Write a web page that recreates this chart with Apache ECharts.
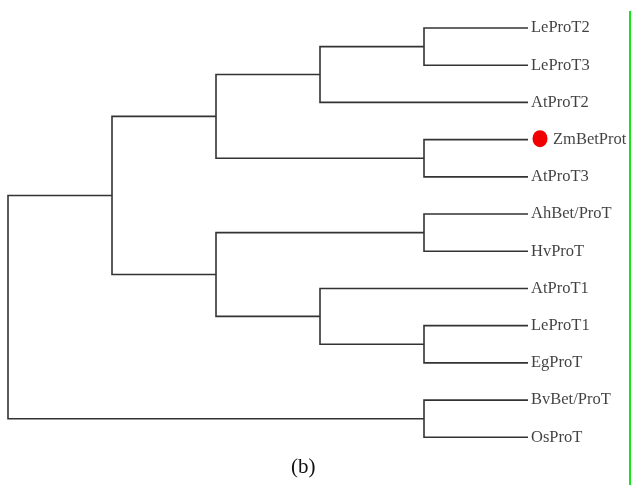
<!DOCTYPE html>
<html>
<head>
<meta charset="utf-8">
<script src="https://cdn.jsdelivr.net/npm/echarts@6/dist/echarts.min.js"></script>
<style>html,body{margin:0;padding:0;background:#fff}#c{width:631px;height:485px}</style>
</head>
<body>
<div id="c"></div>
<script>
// Leaf order, top to bottom
var leaves = ['LeProT2','LeProT3','AtProT2','ZmBetProt','AtProT3','AhBet/ProT','HvProT','AtProT1','LeProT1','EgProT','BvBet/ProT','OsProT'];
// Leaf level on the distance axis
var leafLevel = 5;
// Merges: [id, childA, childB, level]
var merges = [
  ['n1','LeProT2','LeProT3',4],
  ['n2','n1','AtProT2',3],
  ['n3','ZmBetProt','AtProT3',4],
  ['n4','n2','n3',2],
  ['n5','AhBet/ProT','HvProT',4],
  ['n6','LeProT1','EgProT',4],
  ['n7','AtProT1','n6',3],
  ['n8','n5','n7',2],
  ['n9','n4','n8',1],
  ['n10','BvBet/ProT','OsProT',4],
  ['root','n9','n10',0]
];
var highlighted = ['ZmBetProt'];
var caption = '(b)';

// node positions (level, row) derived from the tree structure
var pos = {};
leaves.forEach(function(n,i){ pos[n] = [leafLevel, i]; });
var edgeData = merges.map(function(m){
  var a = pos[m[1]], b = pos[m[2]];
  pos[m[0]] = [m[3], (a[1]+b[1])/2];
  return [a[0], a[1], b[0], b[1], m[3]];
});

var chart = echarts.init(document.getElementById('c'));
chart.setOption({
  animation:false,
  backgroundColor:'#fff',
  title:{text:caption, left:286, top:452, textStyle:{fontFamily:'Liberation Serif', fontWeight:'normal', fontSize:21, color:'#111'}},
  grid:{left:8, right:103, top:28, bottom:47.7},
  xAxis:{type:'value', min:0, max:leafLevel, show:false},
  yAxis:{type:'value', min:0, max:leaves.length-1, inverse:true, show:false},
  graphic:[{type:'line', shape:{x1:630, y1:11, x2:630, y2:485}, style:{stroke:'#14e614', lineWidth:2}}],
  series:[
    {
      type:'custom',
      data:edgeData,
      renderItem:function(params, api){
        var ax=api.value(0), ay=api.value(1), bx=api.value(2), by=api.value(3), h=api.value(4);
        var p1=api.coord([ax,ay]), p2=api.coord([h,ay]), p3=api.coord([h,by]), p4=api.coord([bx,by]);
        return {type:'polyline', shape:{points:[p1,p2,p3,p4]}, style:{stroke:'#333', lineWidth:1.6, fill:null}};
      },
      silent:true
    },
    {
      type:'scatter',
      symbolSize:0,
      silent:true,
      data:leaves.map(function(n,i){
        var hl = highlighted.indexOf(n)>=0;
        return {value:[leafLevel,i], name:n, label:{distance: hl?25:3}};
      }),
      label:{show:true, position:'right', formatter:'{b}', fontFamily:'Liberation Serif', fontSize:16.5, color:'#111'}
    },
    {
      type:'scatter',
      silent:true,
      symbol:'circle',
      symbolSize:[15,17],
      symbolOffset:[12,-1],
      itemStyle:{color:'#f00000', opacity:1},
      data:highlighted.map(function(n){ return [leafLevel, leaves.indexOf(n)]; })
    }
  ]
});
</script>
</body>
</html>
